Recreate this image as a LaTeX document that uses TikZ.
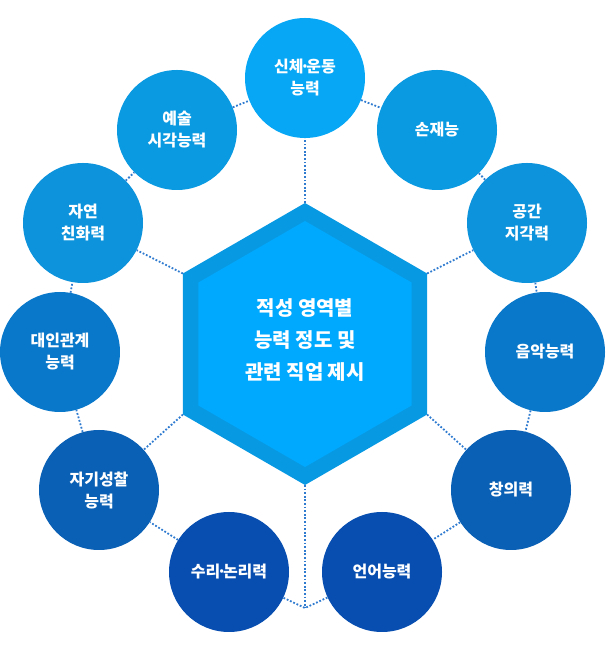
\documentclass[tikz,border=0pt]{standalone}
\usepackage{fontspec}
\setmainfont{Noto Sans CJK KR}

\definecolor{hexout}{HTML}{0899E3}
\definecolor{hexin}{HTML}{00A9FD}
\definecolor{cA}{HTML}{07A7F5}
\definecolor{cB}{HTML}{0A9AE2}
\definecolor{cC}{HTML}{0C93DC}
\definecolor{cD}{HTML}{0A78CA}
\definecolor{cE}{HTML}{0A60B4}
\definecolor{cF}{HTML}{074EB0}
\definecolor{pointille}{HTML}{2E7BCF}

\newcommand{\pointm}{\kern-0.22em·\kern-0.22em}

\begin{document}
\begin{tikzpicture}[x=1pt, y=1pt,
  rond/.style={circle, minimum size=120pt, inner sep=0pt, text=white,
    align=center, font=\bfseries\fontsize{16}{22}\selectfont},
  lien/.style={draw=pointille, line width=1.8pt, dash pattern=on 1.8pt off 1.8pt}]
  \useasboundingbox (0,0) rectangle (605,650);

  % Hexagone central
  \foreach \a/\n in {90/n, 150/no, 210/so, 270/s, 330/se, 30/ne}
    \coordinate (h\n) at ([shift={(\a:141)}]305,306);
  \fill[hexout] (hn) -- (hno) -- (hso) -- (hs) -- (hse) -- (hne) -- cycle;
  \fill[hexin, shift={(305,306)}] (90:123) -- (150:123) -- (210:123)
    -- (270:123) -- (330:123) -- (30:123) -- cycle;
  \node[text=white, align=center, font=\bfseries\fontsize{20}{32}\selectfont]
    (titre) at (305,310) {적성 영역별\\능력 정도 및\\관련 직업 제시};

  % Cercles
  \node[rond, fill=cA] (corps) at (305,572) {신체\pointm 운동\\능력};
  \node[rond, fill=cB] (art) at (177,520) {예술\\시각능력};
  \node[rond, fill=cB] (main) at (437,520) {손재능};
  \node[rond, fill=cC] (nature) at (83,427) {자연\\친화력};
  \node[rond, fill=cC] (espace) at (527,427) {공간\\지각력};
  \node[rond, fill=cD] (relation) at (60,298) {대인관계\\능력};
  \node[rond, fill=cD] (musique) at (545,298) {음악능력};
  \node[rond, fill=cE] (reflexion) at (99,160) {자기성찰\\능력};
  \node[rond, fill=cE] (creation) at (511,160) {창의력};
  \node[rond, fill=cF] (logique) at (229,78) {수리\pointm 논리력};
  \node[rond, fill=cF] (langue) at (382,78) {언어능력};
  \coordinate (bas) at (305,42);

  % Liens entre les cercles
  \draw[lien] (art) -- (corps) -- (main) -- (espace) -- (musique)
    -- (creation) -- (langue) -- (bas) -- (logique) -- (reflexion)
    -- (relation) -- (nature) -- (art);

  % Liens vers l'hexagone
  \draw[lien] (hn) -- (corps);
  \draw[lien] (hno) -- (nature);
  \draw[lien] (hne) -- (espace);
  \draw[lien] (hso) -- (reflexion);
  \draw[lien] (hse) -- (creation);
  \draw[lien] (hs) -- (bas);
\end{tikzpicture}
\end{document}
